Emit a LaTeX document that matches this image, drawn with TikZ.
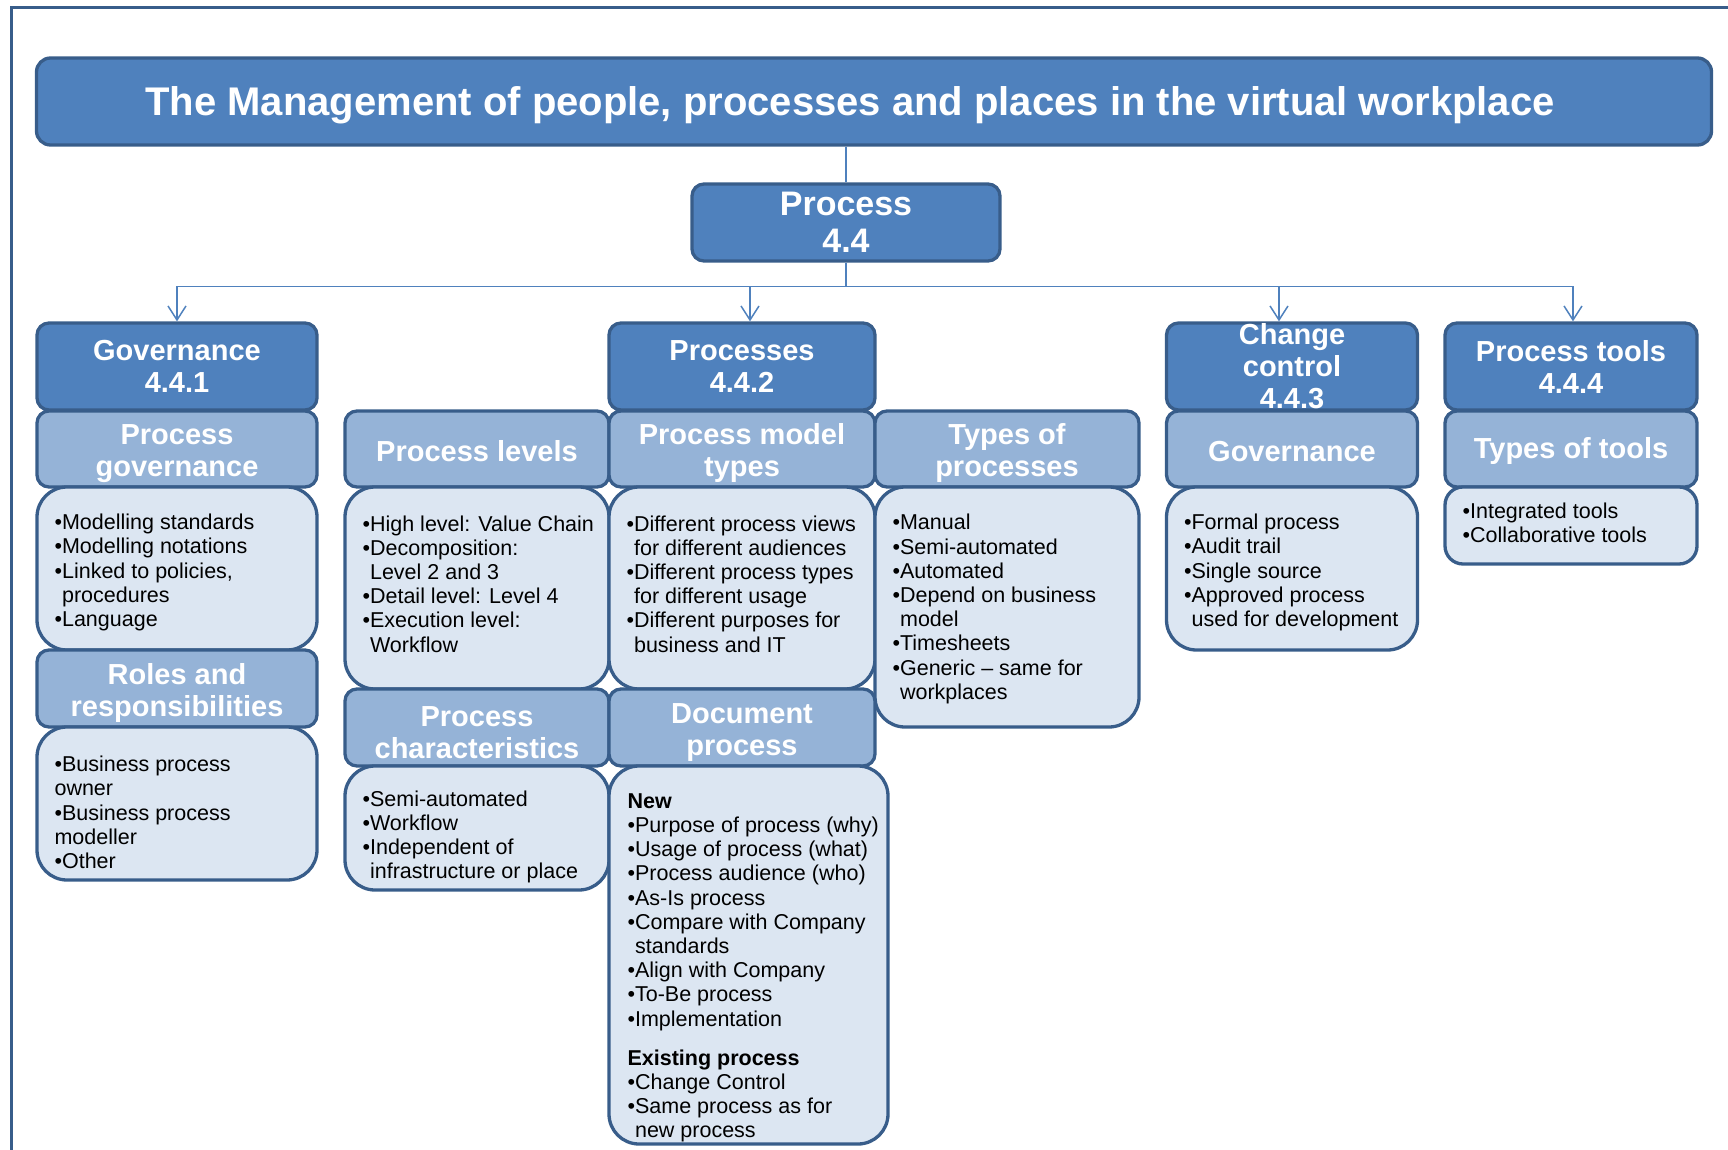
\documentclass[tikz,border=0pt]{standalone}
\usepackage{fontspec}
\setmainfont{Liberation Sans}
\usetikzlibrary{arrows.meta}
\definecolor{bleufonce}{HTML}{4F81BD}
\definecolor{bleubord}{HTML}{385D8A}
\definecolor{bleuclair}{HTML}{95B3D7}
\definecolor{bleupale}{HTML}{DCE6F2}

\begin{document}
\begin{tikzpicture}[x=1pt, y=-1pt]
	\tikzset{boite/.style={rectangle, draw=bleubord, line width=3.3pt, rounded corners=12pt, inner sep=0pt},
		titre/.style={boite, fill=bleufonce, text=white, rounded corners=14pt, font=\fontsize{40}{44}\selectfont\bfseries, text height=29pt, text depth=0pt},
		niveau/.style={boite, fill=bleufonce, text=white, align=center, font=\fontsize{29}{32}\selectfont\bfseries, minimum height=87pt},
		entete/.style={boite, fill=bleuclair, text=white, align=center, font=\fontsize{29}{32}\selectfont\bfseries, minimum height=76pt, execute at begin node={\rule{0pt}{26pt}}},
		contenu/.style={boite, fill=bleupale, rounded corners=30pt},
		texte/.style={anchor=west, align=left, inner sep=0pt, font=\fontsize{21.5}{24.2}\selectfont},
		fleche/.style={-{Straight Barb[length=14pt,width=18pt]}, draw=bleufonce, line width=1.5pt}};
	\useasboundingbox (0,0) rectangle (1728,1150);
	\draw[bleubord, line width=3pt] (11,1160) -- (11,8) -- (1740,8);

	\node[titre, minimum width=1675pt, minimum height=87pt] (titr) at (874,101.5) {The Management of people, processes and places in the virtual workplace\hspace*{48pt}};
	\node[niveau, minimum width=308pt, minimum height=77pt, font=\fontsize{34}{37}\selectfont\bfseries] (proc) at (846,222.5) {Process\\4.4};

	\node[niveau, minimum width=280pt] (gov) at (177,366.5) {Governance\\4.4.1};
	\node[niveau, minimum width=266pt] (procs) at (742,366.5) {Processes\\4.4.2};
	\node[niveau, minimum width=251pt, inner ysep=-3pt] (chg) at (1292,366.5) {Change\\control\\4.4.3};
	\node[niveau, minimum width=252pt] (outils) at (1571,366.5) {Process tools\\4.4.4};

	\node[entete, minimum width=280pt] (pgov) at (177,449) {\rule{0pt}{30pt}Process\\governance};
	\node[entete, minimum width=264pt] (plev) at (477,449) {Process levels};
	\node[entete, minimum width=266pt] (pmt) at (742,449) {\rule{0pt}{30pt}Process model\\types};
	\node[entete, minimum width=264pt] (tproc) at (1007,449) {\rule{0pt}{30pt}Types of\\processes};
	\node[entete, minimum width=251pt] (cgov) at (1292,449) {Governance};
	\node[entete, minimum width=252pt] (touts) at (1571,449) {Types of tools};

	\node[contenu, minimum width=280pt, minimum height=163pt] (govc) at (177,568.5) {};
	\node[contenu, minimum width=264pt, minimum height=202pt] (plevc) at (477,588) {};
	\node[contenu, minimum width=266pt, minimum height=202pt] (pmtc) at (742,588) {};
	\node[contenu, minimum width=264pt, minimum height=240pt] (tprocc) at (1007,607) {};
	\node[contenu, minimum width=251pt, minimum height=163pt] (cgovc) at (1292,568.5) {};
	\node[contenu, minimum width=252pt, minimum height=77pt, rounded corners=18pt] (toutsc) at (1571,525.5) {};

	\node[entete, minimum width=280pt, minimum height=77pt] (roles) at (177,688.5) {\rule{0pt}{30pt}Roles and\\responsibilities};
	\node[entete, minimum width=264pt, minimum height=77pt] (pchar) at (477,727.5) {\rule{0pt}{30pt}Process\\characteristics};
	\node[entete, minimum width=266pt, minimum height=77pt] (docp) at (742,727.5) {\rule{0pt}{30pt}Document\\process};

	\node[contenu, minimum width=280pt, minimum height=153pt] (rolesc) at (177,803.5) {};
	\node[contenu, minimum width=264pt, minimum height=124pt] (pcharc) at (477,828) {};
	\node[contenu, minimum width=279pt, minimum height=378pt] (docc) at (748.5,955) {};

	% textes des boites
	\node[texte] (govt) at ([xshift=19pt,yshift=-4pt]govc.west) {•Modelling standards\\•Modelling notations\\•Linked to policies,\\\hphantom{•}procedures\\•Language};
	\node[texte] (plevt) at ([xshift=19pt,yshift=4pt]plevc.west) {•High level: Value Chain\\•Decomposition:\\\hphantom{•}Level 2 and 3\\•Detail level: Level 4\\•Execution level:\\\hphantom{•}Workflow};
	\node[texte] (pmtt) at ([xshift=19pt,yshift=4pt]pmtc.west) {•Different process views\\\hphantom{•}for different audiences\\•Different process types\\\hphantom{•}for different usage\\•Different purposes for\\\hphantom{•}business and IT};
	\node[texte] (tproct) at ([xshift=19pt,yshift=-2pt]tprocc.west) {•Manual\\•Semi-automated\\•Automated\\•Depend on business\\\hphantom{•}model\\•Timesheets\\•Generic – same for\\\hphantom{•}workplaces};
	\node[texte] (cgovt) at ([xshift=19pt,yshift=-4pt]cgovc.west) {•Formal process\\•Audit trail\\•Single source\\•Approved process\\\hphantom{•}used for development};
	\node[texte] (toutst) at ([xshift=19pt,yshift=3pt]toutsc.west) {•Integrated tools\\•Collaborative tools};
	\node[texte] (rolest) at ([xshift=19pt,yshift=-9pt]rolesc.west) {•Business process\\owner\\•Business process\\modeller\\•Other};
	\node[texte] (pchart) at ([xshift=19pt,yshift=-9pt]pcharc.west) {•Semi-automated\\•Workflow\\•Independent of\\\hphantom{•}infrastructure or place};
	\node[texte] (doct) at ([xshift=20pt,yshift=-13pt]docc.west) {\textbf{New}\\•Purpose of process (why)\\•Usage of process (what)\\•Process audience (who)\\•As-Is process\\•Compare with Company\\\hphantom{•}standards\\•Align with Company\\•To-Be process\\•Implementation\\[15pt]\textbf{Existing process}\\•Change Control\\•Same process as for\\\hphantom{•}new process};

	% liens
	\draw[bleufonce, line width=1.5pt] (titr.south -| proc.north) -- (proc.north);
	\coordinate (branche) at ([yshift=-24pt]proc.south);
	\draw[bleufonce, line width=1.5pt] (proc.south) -- (branche);
	\draw[fleche] (branche) -| (gov.north);
	\draw[fleche] (branche) -| ([xshift=8pt]procs.north);
	\draw[fleche] (branche) -| ([xshift=-13pt]chg.north);
	\draw[fleche] (branche) -| ([xshift=2pt]outils.north);
\end{tikzpicture}
\end{document}
